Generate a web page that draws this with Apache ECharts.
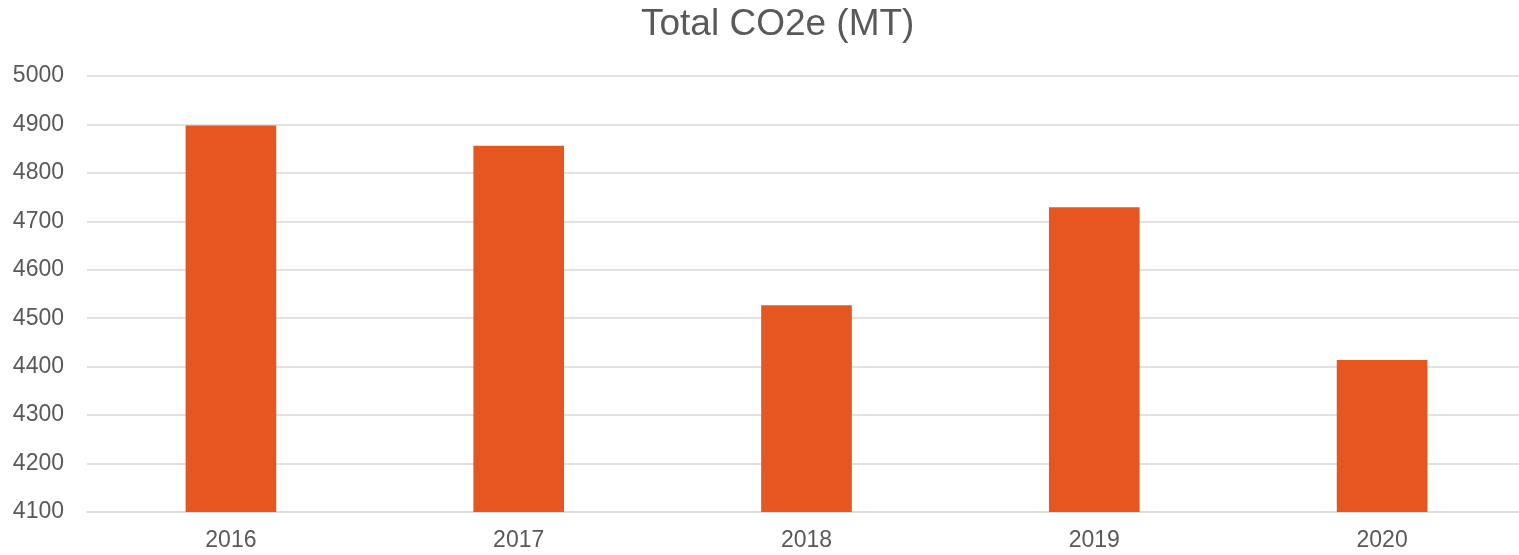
<!DOCTYPE html>
<html>
<head>
<meta charset="utf-8">
<script src="https://cdn.jsdelivr.net/npm/echarts@6/dist/echarts.min.js"></script>
<style>
html,body{margin:0;padding:0;background:#fff;}
#chart{width:1519px;height:555px;}
</style>
</head>
<body>
<div id="chart"></div>
<script>
const titleText = 'Total CO2e (MT)';
const categories = ['2016', '2017', '2018', '2019', '2020'];
const values = [4898, 4856, 4527, 4729, 4414];
const yMin = 4100, yMax = 5000, yStep = 100;

const chart = echarts.init(document.getElementById('chart'), null, {renderer: 'canvas'});
chart.setOption({
  animation: false,
  backgroundColor: '#ffffff',
  title: {
    text: titleText,
    left: 636,
    top: 1,
    textStyle: {fontFamily: 'Liberation Sans, Arial, sans-serif', fontSize: 37, fontWeight: 'normal', color: '#595959'}
  },
  grid: {left: 87, width: 1439, top: 76, bottom: 43, containLabel: false, outerBoundsMode: 'none'},
  xAxis: {
    type: 'category',
    data: categories,
    axisLine: {show: true, lineStyle: {color: '#d9d9d9', width: 1.5}},
    axisTick: {show: false},
    axisLabel: {fontFamily: 'Liberation Sans, Arial, sans-serif', fontSize: 23, color: '#595959', margin: 17}
  },
  yAxis: {
    type: 'value',
    min: yMin, max: yMax, interval: yStep,
    axisLine: {show: false},
    axisTick: {show: false},
    splitLine: {lineStyle: {color: '#d9d9d9', width: 1.5}},
    axisLabel: {fontFamily: 'Liberation Sans, Arial, sans-serif', fontSize: 23, color: '#595959', margin: 23,
      formatter: function (v) { return String(v); }}
  },
  series: [{
    type: 'bar',
    data: values,
    barWidth: '31.5%',
    itemStyle: {color: '#E55620'}
  }]
});
</script>
</body>
</html>
